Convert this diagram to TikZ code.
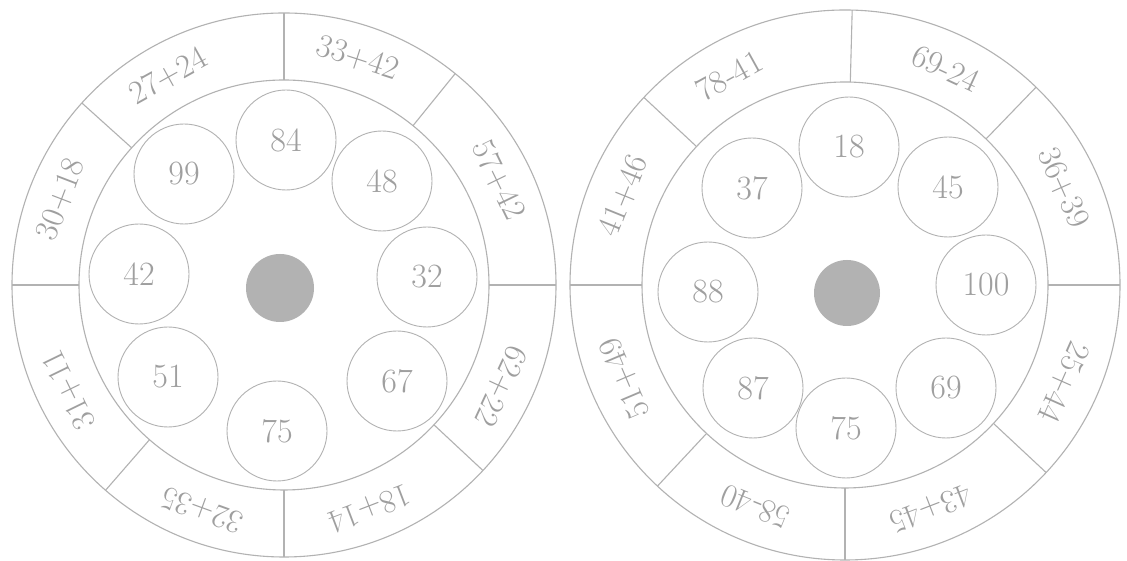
\documentclass[tikz,border=0pt]{standalone}
\usepackage{tikz}
\begin{document}
\begin{tikzpicture}[x=1pt,y=1pt,
  ringline/.style={draw=gray!60,line width=1.1pt},
  numc/.style={circle,draw=gray!60,line width=0.9pt,minimum size=100pt,inner sep=0pt,text=gray!75,font=\fontsize{34}{34}\selectfont},
  eqlabel/.style={text=gray!75,inner sep=0pt,font=\fontsize{33}{33}\selectfont},
  hub/.style={circle,fill=gray!60,inner sep=0pt}]
\useasboundingbox (0,0) rectangle (1127,561);
\fill[white] (0,0) rectangle (1127,561);
% ---------------- left wheel ----------------
\begin{scope}[shift={(284,276)}]
  \coordinate (lc) at (0,0);
  \draw[ringline] (lc) circle (272);
  \draw[ringline] (lc) circle (205);
  \foreach \a in {0,51,90,138,180,229,270,317}
    \draw[ringline] (\a:205) -- (\a:272);
  \node[hub,minimum size=68pt] (ldot) at (-4,-3) {};
  \node[numc] (l84) at (2,145) {84};
  \node[numc] (l48) at (98,104) {48};
  \node[numc] (l32) at (143,8) {32};
  \node[numc] (l67) at (113,-96) {67};
  \node[numc] (l75) at (-7,-146) {75};
  \node[numc] (l51) at (-116,-92) {51};
  \node[numc] (l42) at (-145,11) {42};
  \node[numc] (l99) at (-100,111) {99};
  \node[eqlabel,rotate=29] (le1) at (119:239) {27+24};
  \node[eqlabel,rotate=-18] (le2) at (72:239) {33+42};
  \node[eqlabel,rotate=-64] (le3) at (26:239) {57+42};
  \node[eqlabel,rotate=-115] (le4) at (-25:239) {62+22};
  \node[eqlabel,rotate=-159] (le5) at (-69:239) {18+14};
  \node[eqlabel,rotate=160] (le6) at (250:239) {32+35};
  \node[eqlabel,rotate=116] (le7) at (206:239) {31+11};
  \node[eqlabel,rotate=69] (le8) at (159:239) {30+18};
\end{scope}
% ---------------- right wheel ----------------
\begin{scope}[shift={(845,276)}]
  \coordinate (rc) at (0,0);
  \draw[ringline] (rc) circle (275);
  \draw[ringline] (rc) circle (203);
  \foreach \a in {0,46,88.5,137,180,227,270,317}
    \draw[ringline] (\a:203) -- (\a:275);
  \node[hub,minimum size=66pt] (rdot) at (2,-8) {};
  \node[numc] (r18) at (4,138) {18};
  \node[numc] (r45) at (103,98) {45};
  \node[numc] (r100) at (141,0) {100};
  \node[numc] (r69) at (101,-103) {69};
  \node[numc] (r75) at (1,-143) {75};
  \node[numc] (r87) at (-92,-103) {87};
  \node[numc] (r88) at (-137,-7) {88};
  \node[numc] (r37) at (-93,97) {37};
  \node[eqlabel,rotate=29] (re1) at (119:239) {78-41};
  \node[eqlabel,rotate=-25] (re2) at (65:239) {69-24};
  \node[eqlabel,rotate=-66] (re3) at (24:239) {36+39};
  \node[eqlabel,rotate=-114] (re4) at (-24:239) {25+44};
  \node[eqlabel,rotate=-159] (re5) at (-69:239) {43+45};
  \node[eqlabel,rotate=158] (re6) at (248:239) {58-40};
  \node[eqlabel,rotate=113] (re7) at (203:239) {51+49};
  \node[eqlabel,rotate=68] (re8) at (158:239) {41+46};
\end{scope}
\end{tikzpicture}
\end{document}
